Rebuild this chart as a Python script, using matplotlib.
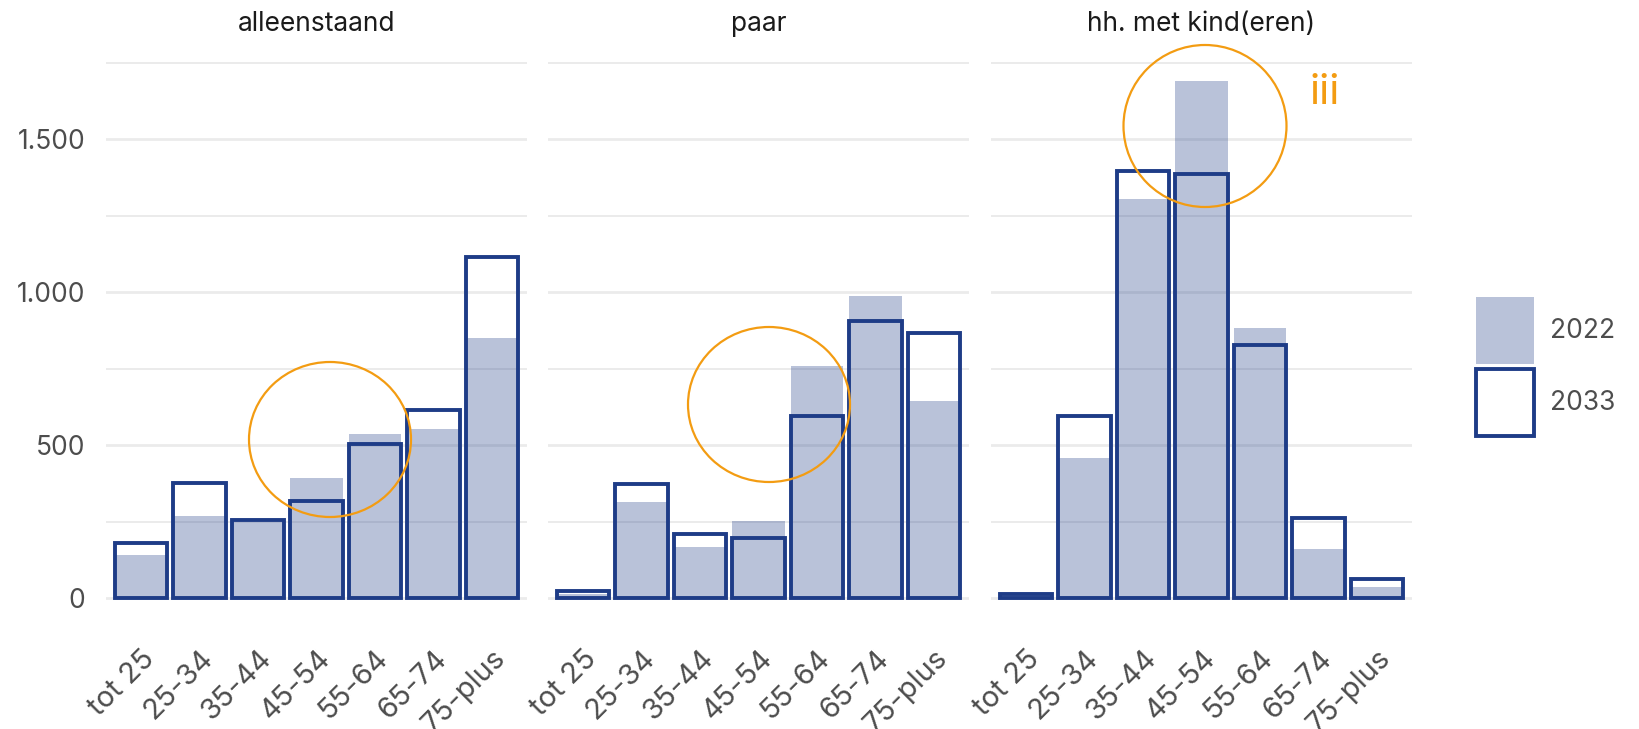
import numpy as np
import matplotlib
matplotlib.use("Agg")
import matplotlib.pyplot as plt
from matplotlib.patches import Patch, Ellipse
from matplotlib.ticker import FuncFormatter, MultipleLocator

plt.rcParams['font.family'] = ['Inter', 'DejaVu Sans']

leeftijd = ['tot 25', '25-34', '35-44', '45-54', '55-64', '65-74', '75-plus']
panels = ['alleenstaand', 'paar', 'hh. met kind(eren)']

alleen_2022 = [141, 267, 250, 394, 535, 552, 850]
alleen_2033 = [179, 376, 255, 318, 505, 615, 1115]
paar_2022 = [12, 315, 167, 252, 758, 989, 644]
paar_2033 = [24, 373, 209, 197, 595, 906, 867]
kind_2022 = [10, 459, 1305, 1691, 882, 161, 38]
kind_2033 = [15, 595, 1397, 1386, 829, 262, 62]

data_2022 = [alleen_2022, paar_2022, kind_2022]
data_2033 = [alleen_2033, paar_2033, kind_2033]

navy = '#1e3c87'
fill22 = (0.118, 0.235, 0.529, 0.31)
orange = '#f39c12'
grid_col = '#ebebeb'

W, H = 1640, 729
fig = plt.figure(figsize=(W / 100, H / 100), dpi=100)

ymax = max(max(v) for v in data_2022 + data_2033)
ylim = (-0.05 * ymax, 1.05 * ymax)

lefts = [106, 548, 991]
pw = 421
ax_top, ax_bot = 55, 624
x = np.arange(1, len(leeftijd) + 1)

for i, name in enumerate(panels):
    ax = fig.add_axes([lefts[i] / W, 1 - ax_bot / H, pw / W, (ax_bot - ax_top) / H])
    ax.bar(x, data_2022[i], width=0.9, color=fill22, linewidth=0, zorder=2)
    ax.bar(x, data_2033[i], width=0.9, facecolor='none', edgecolor=navy,
           linewidth=2.8, zorder=3)
    ax.set_xlim(0.4, len(leeftijd) + 0.6)
    ax.set_ylim(*ylim)
    ax.yaxis.set_major_locator(MultipleLocator(500))
    ax.yaxis.set_minor_locator(MultipleLocator(250))
    ax.grid(axis='y', which='major', color=grid_col, linewidth=2.0, zorder=0)
    ax.grid(axis='y', which='minor', color=grid_col, linewidth=1.4, zorder=0)
    ax.set_axisbelow(True)
    for s in ax.spines.values():
        s.set_visible(False)
    ax.set_xticks(x)
    ax.set_xticklabels(leeftijd, rotation=45, ha='right', va='top',
                       rotation_mode='anchor', fontsize=21, color='#4d4d4d')
    ax.tick_params(axis='x', length=0, pad=15)
    ax.tick_params(axis='y', which='both', length=0, pad=15, labelsize=19,
                   labelcolor='#4d4d4d')
    ax.yaxis.set_major_formatter(FuncFormatter(lambda v, p: f"{int(v):,}".replace(",", ".")))
    if i > 0:
        ax.tick_params(axis='y', labelleft=False)
    ax.set_title(name, fontsize=19, color='#1a1a1a', pad=17)

# annotation circles
for cx, cy, w, h in [(330, 439.5, 162, 155), (769, 404.5, 162, 155), (1205, 126, 163, 162)]:
    fig.patches.append(Ellipse((cx / W, 1 - cy / H), w / W, h / H, transform=fig.transFigure,
                               fill=False, edgecolor=orange, linewidth=1.6, zorder=10))
fig.text(1325 / W, 1 - 104 / H, 'iii', color=orange, fontsize=30, ha='center', va='baseline')

handles = [Patch(facecolor=fill22, edgecolor='none', label='2022'),
           Patch(facecolor='white', edgecolor=navy, linewidth=2.8, label='2033')]
fig.legend(handles=handles, loc='center left', bbox_to_anchor=(1476 / W, 1 - 366.5 / H),
           frameon=False, fontsize=19, handlelength=2.2, handleheight=3.5,
           labelspacing=0.2, handletextpad=0.6, borderpad=0, borderaxespad=0,
           labelcolor='#4d4d4d')

fig.savefig('out.png', dpi=100)
